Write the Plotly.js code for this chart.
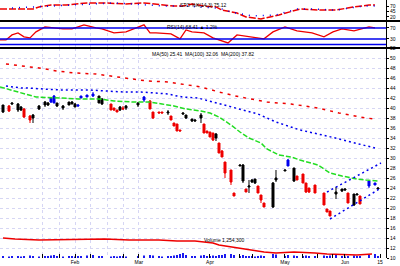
<!DOCTYPE html>
<html><head><meta charset="utf-8">
<script src="https://cdn.plot.ly/plotly-3.0.1.min.js"></script>
<style>html,body{margin:0;padding:0;background:#fff}#chart{width:400px;height:266px}</style>
</head><body><div id="chart"></div>
<script>
// ---- price candles (x = trading-day index) ----
const candleIdx = [1,3,4,6,7,8,10,11,13,15,16,17,18,19,21,23,24,25,26,27,29,31,33,34,37,38,39,40,41,42,46,48,50,51,53,54,56,57,58,59,60,61,62,64,65,67,68,69,70,71,72,73,74,75,77,78,80,81,82,83,84,85,86,87,88,91,92,95,96,98,99,101,102,103,105,108,109,110,112,114,115,116,118,119,120,123,125,126];
const opens  = [39.2,40.4,40.8,39.6,39.6,39.8,38.4,38.0,39.8,40.6,40.6,41.2,41.0,40.4,40.0,40.6,40.8,40.2,40.4,42.0,42.2,42.4,41.0,40.8,40.8,40.0,39.6,39.6,40.0,40.0,40.6,41.6,41.4,39.2,39.2,39.2,39.0,38.4,37.0,36.8,35.6,38.8,38.0,37.4,37.4,38.0,36.8,35.4,35.2,35.0,34.0,33.0,31.4,29.2,27.6,23.0,28.4,25.4,23.8,24.2,25.2,25.0,24.4,22.6,21.0,20.2,25.6,27.4,28.4,25.4,26.4,26.8,25.0,24.0,24.6,23.0,19.8,19.4,22.8,23.4,23.6,23.0,20.6,22.6,22.4,24.4,24.6,23.8];
const highs  = [40.6,40.6,41.0,41.0,40.4,40.0,38.6,38.8,40.6,41.4,41.2,42.2,42.6,41.0,40.6,41.2,41.4,41.0,40.6,42.4,42.6,43.2,42.4,42.0,40.8,40.0,39.6,40.4,40.4,40.6,41.2,42.4,41.6,39.2,39.2,39.2,39.6,38.4,37.0,36.8,35.6,39.0,38.6,37.8,37.6,39.0,36.8,35.4,35.2,35.0,35.0,33.0,31.6,29.2,27.6,23.0,28.6,28.8,23.8,25.6,25.8,25.8,24.4,22.6,21.0,25.2,27.6,27.6,29.8,28.0,26.4,26.8,25.0,24.0,24.6,23.0,19.8,19.4,24.2,23.8,23.8,23.0,22.8,22.8,22.4,25.6,25.0,24.0];
const lows   = [39.0,39.2,40.6,39.2,39.4,38.0,37.0,37.0,39.6,40.2,40.4,41.0,41.0,40.2,39.6,40.6,40.8,40.2,40.2,42.0,42.2,42.2,41.0,40.6,39.6,39.4,39.2,39.4,39.6,39.6,40.2,41.2,39.8,37.8,39.0,39.0,38.6,37.6,36.4,35.4,35.4,38.6,37.8,37.2,37.2,37.0,35.0,35.0,34.2,33.4,33.4,31.0,30.2,26.0,24.6,22.4,28.4,25.0,23.2,23.0,25.0,24.8,23.0,21.0,20.2,20.0,25.2,27.4,28.4,25.2,25.6,25.0,23.0,23.0,23.0,20.6,19.2,18.4,21.8,23.2,23.4,21.0,20.4,22.6,20.8,24.0,24.6,23.8];
const closes = [40.6,39.4,41.0,40.8,40.2,38.2,37.6,38.6,40.4,41.2,41.0,42.0,42.4,41.0,40.4,41.2,41.2,40.8,40.6,42.4,42.6,42.8,42.4,41.8,39.6,39.6,39.2,40.2,39.8,40.4,41.0,42.2,39.8,38.0,39.0,39.0,39.2,37.6,36.4,35.4,35.4,39.0,38.6,37.8,37.6,38.6,35.0,35.0,34.2,33.6,34.8,31.0,30.2,27.0,25.2,22.4,28.6,28.6,23.2,24.4,25.6,25.8,23.0,21.6,20.2,25.0,26.0,27.6,29.6,28.0,25.6,25.0,23.2,23.2,23.0,20.6,19.2,18.4,23.2,23.8,23.8,21.0,22.8,22.8,20.8,25.4,25.0,24.0];
const blueBar = [12,13,19,20,21,22,32,69,86,87]; // 1-based candle numbers drawn in blue
const volumes = [2,1.5,2,2,1.5,2,2.5,2,1.5,2,2,2.5,3,2,1.5,2,2,1.5,2,2,2.5,3,2,2,1.5,2,1.5,2,2,1.5,2,2.5,3,2.5,2,1.5,2,2,2.5,3,4,5,3,2,2,2.5,3,2,2,2.5,2,3,3,4,4,3,2,3,2,2,2,1.5,2,2.5,2,4,3.5,2,3,2.5,2,2,2.5,2,2,2.5,2,2.5,3,2,1.5,2,2.5,2,2,3.5,4,2];

// ---- moving averages ----
const ma50Idx = [0,7,12,20,26,33,38,44,50,54,58,62,67,70,73,77,80,83,87,89,93,97,100,106,110,114,119,122,126];
const ma50Val = [44.2,43.0,42.2,42.0,41.8,41.8,41.4,41.2,41.2,40.8,40.4,39.8,39.4,39.0,38.2,36.6,35.2,34.0,33.0,31.8,30.6,30.2,29.6,28.6,27.0,26.4,25.8,25.6,25.4];
const ma100Idx = [2,7,9,13,20,30,37,41,47,52,56,59,61,66,71,78,86,92,100,109,117,125];
const ma100Val = [44.4,44.0,44.0,43.8,43.6,43.6,43.4,43.2,43.2,43.0,42.8,42.4,42.2,42.0,41.2,40.2,38.8,37.2,35.6,34.4,33.2,32.0];
const ma200Idx = [2,8,13,19,25,32,37,42,49,56,61,67,73,80,89,97,106,113,122,125];
const ma200Val = [48.8,48.4,48.0,47.4,47.0,46.8,46.4,46.0,45.4,45.2,44.8,44.2,43.2,42.2,41.2,40.8,40.0,39.0,38.0,37.8];
// trend channel
const chanIdx = [109,127];
const chanUpper = [23.2,29.0];
const chanLowerIdx = [110,127];
const chanLower = [17.8,24.0];

// ---- volume moving line ----
const volLineIdx = [1,5,13,29,35,43,53,59,65,68,71,73,75,77,80,84,86,88,92,98,105,109,119,124];
const volLineVal = [20,19,18,19,19,18,18,17,17,16,15,13,12,11,10,8,7,6,5,6,5,4,3,4];

// ---- top oscillator ----
const stoIdx = [0,6,11,13,17,22,27,29,35,42,48,52,55,58,61,64,68,72,74,79,82,87,93,100,107,112,118,123,125];
const stoK   = [57,57,57,67,76,76,81,86,86,81,86,81,76,71,71,81,71,67,52,38,19,10,29,57,52,52,67,76,76];
const stoDIdx = [4,22,38,55,62,72,74,77,79,82,84,92,94,99,104,112,121,125];
const stoD    = [62,76,86,71,71,62,57,43,38,29,24,29,38,57,57,52,71,71];

// ---- RSI ----
const rsiIdx = [0,2,4,6,8,10,12,15,18,21,24,28,32,34,38,42,48,50,52,57,60,62,64,68,71,76,79,84,88,91,95,99,104,108,111,114,118,123,125];
const rsiVal = [26.4,26.4,44.6,51.9,37.3,33.7,55.5,73.6,70,66.4,66.4,80.9,70,66.4,51.9,55.5,80.9,51.9,51.9,48.2,30.1,62.7,55.5,51.9,33.7,15.5,44.6,37.3,30.1,55.5,73.6,59.1,51.9,37.3,55.5,66.4,59.1,73.6,70];
const rsiLevels = [70,30,10];

// ---- axis labels ----
const gridIdx = [14.3,19.7,25,30.3,35.7,41,46.3];
const xLabelIdx = [14.3,19.7,25,30.3,41,46.3,70,80,84.3,95,101,106,111,115,126.7];
const xLabels = ['','','Feb','','','Mar','Apr','','','May','','','','Jun','15'];

const RED='#ee0000', BLUE='#0000ee', GREEN='#22dd22', GRID='#d6d6f4';
const xRange=[0,128.67];

const isBlue = candleIdx.map((_,i)=>blueBar.includes(i+1));
function pick(arr, wantBlue){return arr.filter((_,i)=>isBlue[i]===wantBlue);}

const traces = [
  {type:'scatter',mode:'lines',x:stoIdx,y:stoK,xaxis:'x',yaxis:'y',line:{color:RED,width:1.5,dash:'7px,2px'}},
  {type:'scatter',mode:'lines',x:stoDIdx,y:stoD,xaxis:'x',yaxis:'y',line:{color:BLUE,width:1.5,dash:'1px,6px'}},
  {type:'scatter',mode:'lines',x:rsiIdx,y:rsiVal,xaxis:'x2',yaxis:'y2',line:{color:RED,width:1.3}},
  {type:'scatter',mode:'lines',x:ma200Idx,y:ma200Val,xaxis:'x3',yaxis:'y3',line:{color:RED,width:1.5,dash:'3px,5px'}},
  {type:'scatter',mode:'lines',x:ma100Idx,y:ma100Val,xaxis:'x3',yaxis:'y3',line:{color:BLUE,width:1.5,dash:'2px,3px'}},
  {type:'scatter',mode:'lines',x:ma50Idx,y:ma50Val,xaxis:'x3',yaxis:'y3',line:{color:GREEN,width:1.5,dash:'5px,2px'}},
  {type:'scatter',mode:'lines',x:chanIdx,y:chanUpper,xaxis:'x3',yaxis:'y3',line:{color:BLUE,width:1.5,dash:'2px,3px'}},
  {type:'scatter',mode:'lines',x:chanLowerIdx,y:chanLower,xaxis:'x3',yaxis:'y3',line:{color:BLUE,width:1.5,dash:'2px,3px'}},
  {type:'candlestick',x:pick(candleIdx,false),open:pick(opens,false),high:pick(highs,false),low:pick(lows,false),close:pick(closes,false),
   xaxis:'x3',yaxis:'y3',whiskerwidth:0,
   increasing:{line:{color:'#000',width:1},fillcolor:'#000'},decreasing:{line:{color:RED,width:1},fillcolor:RED}},
  {type:'candlestick',x:pick(candleIdx,true),open:pick(opens,true),high:pick(highs,true),low:pick(lows,true),close:pick(closes,true),
   xaxis:'x3',yaxis:'y3',whiskerwidth:0,
   increasing:{line:{color:BLUE,width:1},fillcolor:BLUE},decreasing:{line:{color:BLUE,width:1},fillcolor:BLUE}},
  {type:'bar',x:candleIdx,y:volumes,xaxis:'x4',yaxis:'y4',width:0.6,marker:{color:BLUE,line:{width:0}}},
  {type:'scatter',mode:'lines',x:volLineIdx,y:volLineVal,xaxis:'x4',yaxis:'y4',line:{color:RED,width:1.6}}
];

const gridX = {range:xRange,tickvals:gridIdx,showticklabels:false,ticks:'',showgrid:true,gridcolor:GRID,griddash:'dot',gridwidth:1,zeroline:false,showline:false,fixedrange:true};
const yBase = {side:'right',showline:true,linecolor:'#000',linewidth:1,ticks:'outside',ticklen:2,tickcolor:'#000',tickfont:{size:5,color:'#000'},zeroline:false,fixedrange:true};
const topD=[1-21/258,1], rsiD=[1-48/258,1-21/258], mainD=[0,1-48/258];

const layout = {
  width:400,height:266,margin:{l:0,r:14,t:0,b:8},
  paper_bgcolor:'#fff',plot_bgcolor:'rgba(0,0,0,0)',showlegend:false,
  boxgap:0.05,
  font:{family:'Liberation Sans, Arial, sans-serif',size:5,color:'#000'},
  xaxis:Object.assign({anchor:'y',domain:[0,1]},gridX),
  xaxis2:Object.assign({anchor:'y2',domain:[0,1]},gridX),
  xaxis3:Object.assign({anchor:'y3',domain:[0,1],rangeslider:{visible:false}},gridX),
  xaxis4:{anchor:'y4',domain:[0,1],range:xRange,tickvals:xLabelIdx,ticktext:xLabels,showgrid:false,ticks:'inside',ticklen:4,tickcolor:'#000',tickfont:{size:5,color:'#000'},zeroline:false,showline:false,fixedrange:true},
  yaxis:Object.assign({anchor:'x',domain:topD,range:[0,100],tickvals:[20,45,70],showgrid:false},yBase),
  yaxis2:Object.assign({anchor:'x2',domain:rsiD,range:[-3,95],tickvals:[30,70],showgrid:false},yBase),
  yaxis3:Object.assign({anchor:'x3',domain:mainD,range:[10,52],tick0:10,dtick:2,showgrid:true,gridcolor:GRID,griddash:'dot'},yBase),
  yaxis4:{anchor:'x4',domain:[0,32/258],range:[0,32],visible:false,fixedrange:true},
  shapes:[
    {type:'line',xref:'paper',yref:'paper',x0:0,x1:1.04,y0:topD[0],y1:topD[0],line:{color:'#000',width:2}},
    {type:'line',xref:'paper',yref:'paper',x0:0,x1:1.04,y0:rsiD[0],y1:rsiD[0],line:{color:'#000',width:2}}
  ].concat(rsiLevels.map(v=>({type:'line',xref:'x2 domain',yref:'y2',x0:0,x1:1,y0:v,y1:v,line:{color:BLUE,width:1.5}}))),
  annotations:[
    {text:'STO %K(14,3) 75.12',xref:'paper',yref:'paper',x:178/386,y:1,xanchor:'left',yanchor:'top',showarrow:false,font:{size:5}},
    {text:'RSI(14) 68.41 ▲ 1.2%',xref:'paper',yref:'paper',x:165/386,y:topD[0]-0.004,xanchor:'left',yanchor:'top',showarrow:false,font:{size:5}},
    {text:'MA(50) 25.41  MA(100) 32.06  MA(200) 37.82',xref:'paper',yref:'paper',x:150/386,y:rsiD[0]-0.004,xanchor:'left',yanchor:'top',showarrow:false,font:{size:5}},
    {text:'Volume 1,254,300',xref:'paper',yref:'paper',x:202/386,y:18/258,xanchor:'left',yanchor:'middle',showarrow:false,font:{size:5}}
  ],
  hovermode:false
};
Plotly.newPlot('chart',traces,layout,{staticPlot:true,displayModeBar:false});
</script></body></html>
